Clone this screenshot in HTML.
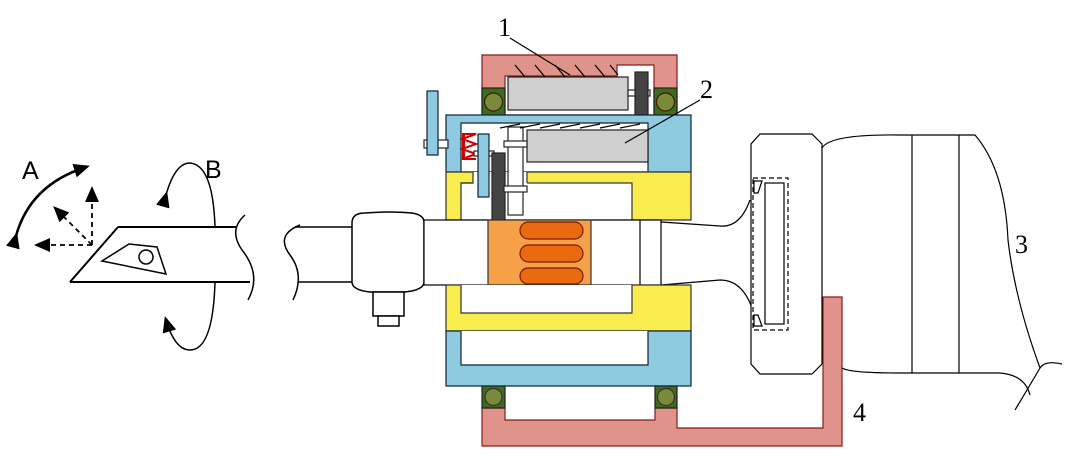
<!DOCTYPE html>
<html><head><style>html,body{margin:0;padding:0;background:#fff;}svg{display:block;}</style></head>
<body>
<svg width="1067" height="460" viewBox="0 0 1067 460" xmlns="http://www.w3.org/2000/svg" font-family="Liberation Sans, sans-serif">
<defs>
<marker id="ah2" markerWidth="16" markerHeight="14" refX="12" refY="7" orient="auto" markerUnits="userSpaceOnUse"><path d="M0,0 L16,7 L0,14 Z" fill="#000"/></marker>
</defs>
<g stroke="#000" stroke-width="1.5" fill="none">
<path d="M16,236 Q30,185 86,167" stroke-width="2.5" marker-end="url(#ah2)" marker-start="url(#ah2)"/>
<path d="M92,245 L92,190" stroke-dasharray="5,4" stroke-width="1.8" marker-end="url(#ah2)"/>
<path d="M92,245 L56,209" stroke-dasharray="5,4" stroke-width="1.8" marker-end="url(#ah2)"/>
<path d="M92,245 L38,245" stroke-dasharray="5,4" stroke-width="1.8" marker-end="url(#ah2)"/>
<path d="M166,195 Q175,163 190,163 Q213,165 215,227" marker-start="url(#ah2)"/>
<path d="M215,282 Q213,350 190,350 Q175,350 166,320" marker-end="url(#ah2)"/>
<path d="M118,227 L236,227 M70,282 L250,282 M70,282 L118,227" stroke-width="2"/>
<path d="M245,215 Q228,230 242,250 Q262,275 248,300"/>
<path d="M129,244 L102,261 L166,274 L157,247 Z"/>
<circle cx="146" cy="257" r="7"/>
<path d="M300,225 Q275,235 290,255 Q305,275 293,300"/>
<path d="M295,227 L353,227 M298,282 L353,282"/>
<path d="M352,223 Q352,213 365,213 Q390,211 412,213 Q424,215 424,222 L424,282 Q424,290 405,292 L370,292 Q352,290 352,282 Z" fill="#fff"/>
<rect x="373" y="292" width="31" height="24" fill="#fff"/>
<rect x="378" y="316" width="21" height="10" fill="#fff"/>
</g>
<g stroke="#3a1a00" stroke-width="1.2">
<path d="M482,55 L677,55 L677,115 L482,115 Z" fill="#e0938a" stroke="#8a1a1a"/>
<path d="M505,76 L617,76 L617,65 L654,65 L654,115 L505,115 Z" fill="#fff" stroke="#8a1a1a"/>
<rect x="508" y="77" width="120" height="33" fill="#cfcfcf" stroke="#222"/>
<rect x="628" y="90" width="22" height="6" fill="#fff" stroke="#222"/>
<rect x="635" y="72" width="13" height="43" fill="#444" stroke="#222"/>
<rect x="482" y="88" width="23" height="27" fill="#3e6b1e" stroke="#222"/>
<circle cx="493.5" cy="102" r="9" fill="#7a8a3a"/>
<rect x="654" y="88" width="23" height="27" fill="#3e6b1e" stroke="#222"/>
<circle cx="665.5" cy="102" r="9" fill="#7a8a3a"/>
<rect x="446" y="115" width="245" height="57" fill="#8ecae0" stroke="#123"/>
<path d="M461,123 L648,123 L648,172 L461,172 Z" fill="#fff" stroke="#123"/>
<rect x="527" y="130" width="121" height="32" fill="#cfcfcf" stroke="#222"/>
<path d="M446,172 L691,172 L691,220 L446,220 Z" fill="#f8ec4e" stroke="#333"/>
<rect x="461" y="183" width="171" height="37" fill="#fff" stroke="#333"/>
<rect x="473" y="172" width="54" height="12" fill="#fff" stroke="none"/>
<path d="M461,183 L473,183 L473,172 M527,172 L527,183" fill="none" stroke="#333"/>
<rect x="424" y="140" width="24" height="8" fill="#fff" stroke="#222"/>
<rect x="427" y="91" width="11" height="64" fill="#8ecae0" stroke="#123"/>
<path d="M462,134 L476,134 L462,139 L476,144 L462,149 L476,154 L462,159 L476,159" fill="none" stroke="#c00" stroke-width="2"/>
<rect x="462" y="134" width="3" height="26" fill="#c00" stroke="none"/>
<rect x="474" y="151" width="20" height="5" fill="#fff" stroke="#222"/>
<rect x="478" y="134" width="11" height="63" fill="#8ecae0" stroke="#123"/>
<rect x="492" y="153" width="13" height="67" fill="#444" stroke="#222"/>
<rect x="508" y="127" width="15" height="88" fill="#fff" stroke="#222"/>
<rect x="504" y="141" width="23" height="6" fill="#fff" stroke="#222"/>
<rect x="504" y="186" width="23" height="6" fill="#fff" stroke="#222"/>
</g>
<g stroke="#000" stroke-width="1.2">
<path d="M520,128 L540,124 M540,128 L560,124 M560,128 L580,124 M580,128 L600,124 M600,128 L620,124 M620,128 L640,124 M500,128 L520,124"/>
<path d="M515,65 L525,77 M535,65 L545,77 M555,65 L565,77 M575,65 L585,77 M595,65 L605,77 M610,65 L618,75"/>
</g>
<g stroke="#000" stroke-width="1.2">
<rect x="424" y="220" width="237" height="65" fill="#fff"/>
<line x1="640" y1="220" x2="640" y2="285"/>
<rect x="488" y="220" width="103" height="65" fill="#f6a048" stroke="#333"/>
<rect x="520" y="222" width="63" height="17" rx="8.5" fill="#ea6a10" stroke="#7a1a00"/>
<rect x="520" y="245" width="63" height="17" rx="8.5" fill="#ea6a10" stroke="#7a1a00"/>
<rect x="520" y="268" width="63" height="16" rx="8" fill="#ea6a10" stroke="#7a1a00"/>
<path d="M661,222 L720,226 Q740,228 750,200 M661,285 L720,280 Q742,280 752,308" fill="none"/>
</g>
<g stroke="#333" stroke-width="1.2">
<rect x="446" y="285" width="245" height="46" fill="#f8ec4e"/>
<path d="M461,285 L461,313 L632,313 L632,285" fill="#fff"/>
<rect x="446" y="331" width="245" height="55" fill="#8ecae0" stroke="#123"/>
<path d="M461,331 L461,365 L648,365 L648,331" fill="#fff" stroke="#123"/>
<path d="M482,408 L505,408 L505,420 L655,420 L655,408 L677,408 L677,428 L823,428 L823,297 L842,297 L842,446 L482,446 Z" fill="#e0938a" stroke="#8a1a1a"/>
<rect x="482" y="386" width="23" height="22" fill="#3e6b1e" stroke="#222"/>
<circle cx="493.5" cy="397" r="8.5" fill="#7a8a3a"/>
<rect x="655" y="386" width="22" height="22" fill="#3e6b1e" stroke="#222"/>
<circle cx="666" cy="397" r="8.5" fill="#7a8a3a"/>
</g>
<g stroke="#000" stroke-width="1.2" fill="none">
<path d="M760,134 L812,134 L822,144 L822,364 L812,374 L760,374 L751,364 L751,144 Z" fill="#fff"/>
<rect x="753" y="178" width="35" height="152" stroke-dasharray="5,3"/>
<rect x="765" y="183" width="19" height="141"/>
<path d="M754,181 L762,181 L758,193 L754,193 Z M754,315 L758,315 L762,326 L754,326 Z"/>
<path d="M822,148 Q830,134 900,135 L975,135 Q1005,170 1008,240 Q1015,300 1040,368 M1040,368 Q1045,360 1062,364 M1040,368 Q1030,385 1015,410"/>
<path d="M842,368 Q850,373 900,373 L1000,373 Q1025,375 1030,395"/>
<line x1="912" y1="135" x2="912" y2="373"/>
<line x1="959" y1="135" x2="959" y2="373"/>
<path d="M510,38 L570,75 M700,100 L625,143"/>
</g>
<g font-size="25" fill="#000">
<text x="22" y="179">A</text>
<text x="205" y="178">B</text>
</g>
<g font-family="Liberation Serif, serif" font-size="26" fill="#000">
<text x="498" y="36">1</text>
<text x="700" y="98">2</text>
<text x="1015" y="253">3</text>
<text x="853" y="421">4</text>
</g>
</svg>
</body></html>
